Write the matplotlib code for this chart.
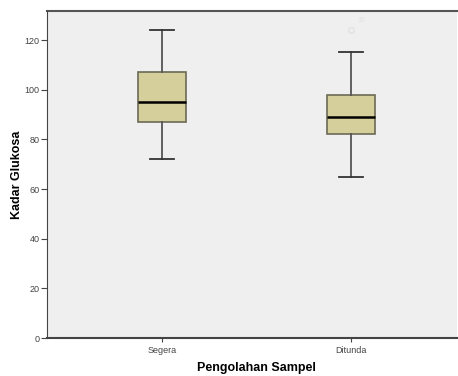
import matplotlib as mpl
import matplotlib.pyplot as plt

mpl.rcParams['font.family'] = ['Liberation Sans', 'DejaVu Sans']

# Data (SPSS boxplot)
groups = ["Segera", "Ditunda"]
whislo = [72, 65]
q1 = [87, 82]
med = [95, 89]
q3 = [107, 98]
whishi = [124, 115]
fliers = [[], [124]]
flier_ids = [[], ["30"]]

stats = []
for i in range(len(groups)):
    stats.append(dict(label=groups[i], whislo=whislo[i], q1=q1[i], med=med[i],
                      q3=q3[i], whishi=whishi[i], fliers=fliers[i]))

fig = plt.figure(figsize=(4.58, 3.76), dpi=100)
fig.patch.set_facecolor("white")
ax = fig.add_axes([47/458, 38/376, 410/458, 327/376])
ax.set_facecolor("#efefef")

pos = [1, 2]
bp = ax.bxp(stats, positions=pos, widths=0.254, patch_artist=True,
            capwidths=0.125,
            boxprops=dict(facecolor="#d4cf9b", edgecolor="#6b6a55", lw=1.2),
            medianprops=dict(color="black", lw=1.8),
            whiskerprops=dict(color="#555555", lw=1.3),
            capprops=dict(color="#333333", lw=1.3),
            flierprops=dict(marker="o", markersize=4, markerfacecolor="none",
                            markeredgecolor="#e2e2e2", markeredgewidth=1))

for i, ids in enumerate(flier_ids):
    for v, t in zip(fliers[i], ids):
        ax.annotate(t, (pos[i], v), xytext=(5, 6), textcoords="offset points",
                    fontsize=5, color="#e0e0e0")

ax.set_xlim(0.392, 2.561)
ax.set_ylim(0, 131.7)
ax.set_yticks([0, 20, 40, 60, 80, 100, 120])
ax.tick_params(axis="both", labelsize=6.5, colors="#444444", width=0.8)
ax.tick_params(axis="y", length=4, pad=1.5)
ax.tick_params(axis="x", length=3, pad=2.5)

for s in ["top", "right"]:
    ax.spines[s].set_visible(False)
ax.spines["left"].set_color("#444444")
ax.spines["bottom"].set_color("#444444")
ax.spines["bottom"].set_linewidth(1.5)
ax.axhline(131.7, color="#555555", lw=1.5, clip_on=False)

ax.set_xlabel("Pengolahan Sampel", fontsize=9, fontweight="bold")
ax.set_ylabel("Kadar Glukosa", fontsize=9, fontweight="bold")
ax.xaxis.set_label_coords(0.511, -0.072)
ax.yaxis.set_label_coords(-0.058, 0.5)

fig.savefig("out.png", dpi=100)
